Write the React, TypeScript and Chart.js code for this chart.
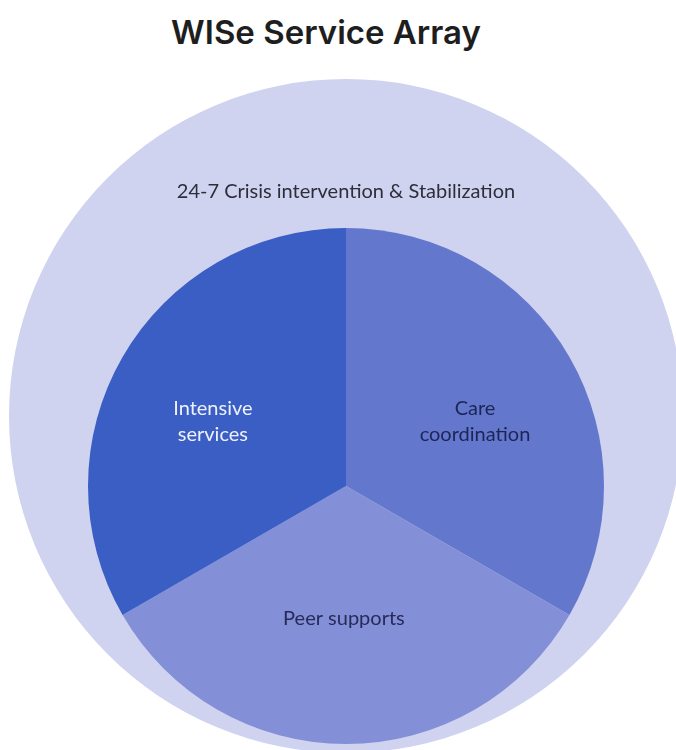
import React, { useEffect, useRef } from "react";
import { Chart, registerables } from "chart.js";

Chart.register(...registerables);

// ---- data ----
const TITLE = "WISe Service Array";
const outerCategories = ["24-7 Crisis intervention & Stabilization"];
const outerValues = [1];
const innerCategories = ["Care coordination", "Peer supports", "Intensive services"];
const innerValues = [1, 1, 1];
const innerLabelLines = [["Care", "coordination"], ["Peer supports"], ["Intensive", "services"]];

// ---- styles ----
const OUTER_COLOR = "#D0D3F0";
const INNER_COLORS = ["#6378CD", "#838FD7", "#3A5EC4"];
const INNER_TEXT_COLORS = ["#1E2456", "#262B58", "#EEF1FB"];
const LABEL_FONT = "20px Lato, 'Open Sans', sans-serif";
// label offsets relative to pie center, as fraction of radius
const INNER_LABEL_OFFSETS = [
  [0.5, -0.248],
  [-0.008, 0.512],
  [-0.516, -0.248],
];
const OUTER_LABEL_OFFSET = [0, -0.665];

const labelPlugin = {
  id: "sliceLabels",
  afterDatasetsDraw(chart: any, _args: any, opts: any) {
    const meta = chart.getDatasetMeta(0);
    const ctx = chart.ctx;
    ctx.save();
    ctx.font = LABEL_FONT;
    ctx.textAlign = "center";
    ctx.textBaseline = "middle";
    const lineH = 26;
    meta.data.forEach((arc: any, i: number) => {
      const off = opts.offsets[i];
      const cx = arc.x + off[0] * arc.outerRadius;
      const cy = arc.y + off[1] * arc.outerRadius;
      const lines: string[] = opts.lines[i];
      ctx.fillStyle = opts.colors[i];
      const startY = cy - ((lines.length - 1) * lineH) / 2;
      lines.forEach((ln, j) => ctx.fillText(ln, cx, startY + j * lineH));
    });
    ctx.restore();
  },
};

function PieCanvas(props: {
  size: number;
  left: number;
  top: number;
  labels: string[];
  values: number[];
  colors: string[];
  textColors: string[];
  lines: string[][];
  offsets: number[][];
}) {
  const ref = useRef<HTMLCanvasElement>(null);
  useEffect(() => {
    if (!ref.current) return;
    const chart = new Chart(ref.current, {
      type: "pie",
      data: {
        labels: props.labels,
        datasets: [
          {
            data: props.values,
            backgroundColor: props.colors,
            borderWidth: 0,
            hoverOffset: 0,
          },
        ],
      },
      options: {
        responsive: false,
        maintainAspectRatio: false,
        animation: false,
        devicePixelRatio: 1,
        layout: { padding: 0 },
        plugins: {
          legend: { display: false },
          tooltip: { enabled: false },
          title: { display: false },
          sliceLabels: {
            lines: props.lines,
            colors: props.textColors,
            offsets: props.offsets,
          },
        } as any,
      },
      plugins: [labelPlugin],
    });
    return () => chart.destroy();
  }, []);
  return (
    <canvas
      ref={ref}
      width={props.size}
      height={props.size}
      style={{
        position: "absolute",
        left: props.left,
        top: props.top,
        width: props.size,
        height: props.size,
        display: "block",
      }}
    />
  );
}

export default function App() {
  return (
    <div
      style={{
        position: "fixed",
        left: 0,
        top: 0,
        width: 676,
        height: 750,
        overflow: "hidden",
        background: "#ffffff",
      }}
    >
      <div
        style={{
          position: "absolute",
          left: 0,
          top: 12,
          width: 652,
          textAlign: "center",
          font: "600 33px Inter, Lato, sans-serif",
          color: "#1E1E1E",
          lineHeight: "40px",
        }}
      >
        {TITLE}
      </div>
      <PieCanvas
        size={674}
        left={9}
        top={79}
        labels={outerCategories}
        values={outerValues}
        colors={[OUTER_COLOR]}
        textColors={["#2E2E3A"]}
        lines={[outerCategories]}
        offsets={[OUTER_LABEL_OFFSET]}
      />
      <PieCanvas
        size={516}
        left={88}
        top={228}
        labels={innerCategories}
        values={innerValues}
        colors={INNER_COLORS}
        textColors={INNER_TEXT_COLORS}
        lines={innerLabelLines}
        offsets={INNER_LABEL_OFFSETS}
      />
    </div>
  );
}
